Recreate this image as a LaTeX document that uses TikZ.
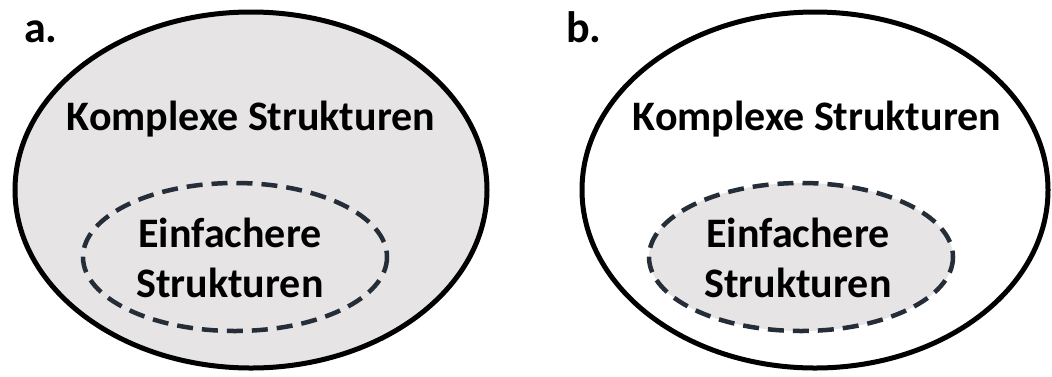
\documentclass[tikz,border=0pt]{standalone}
\usepackage{fontspec}
\setmainfont{Carlito}
\usetikzlibrary{shapes.geometric}
\definecolor{panelfill}{HTML}{E6E4E5}
\definecolor{dashink}{HTML}{252D38}
\tikzset{
  outerset/.style={draw=black, line width=5pt},
  innerset/.style={draw=dashink, line width=4.5pt, dash pattern=on 16pt off 9pt},
  bigtext/.style={font=\bfseries\fontsize{42}{48}\selectfont, inner sep=0pt},
  innertext/.style={font=\bfseries\fontsize{42}{50}\selectfont, align=center, inner sep=0pt},
  panellabel/.style={font=\bfseries\fontsize{44}{50}\selectfont, anchor=base west, inner sep=0pt}
}
\begin{document}
\begin{tikzpicture}[x=1pt, y=-1pt]
  \useasboundingbox (0,0) rectangle (1052,376);

  % panel a: filled outer set, dashed inner set
  \draw[outerset, fill=panelfill] (251,190) ellipse [x radius=236, y radius=178];
  \draw[innerset] (235,257) ellipse [x radius=152, y radius=74];
  \node[panellabel] (la) at (24,42) {a.};
  \node[bigtext, anchor=base] (ka) at (251,130) {Komplexe Strukturen};
  \node[innertext, anchor=base] (ea) at (230,247) {Einfachere};
  \node[innertext, anchor=base] (sa) at (230,297) {Strukturen};

  % panel b: empty outer set, filled dashed inner set
  \draw[outerset, fill=white] (815,190) ellipse [x radius=233, y radius=178];
  \draw[innerset, fill=panelfill] (801,257) ellipse [x radius=152, y radius=74];
  \node[panellabel] (lb) at (566,42) {b.};
  \node[bigtext, anchor=base] (kb) at (817,130) {Komplexe Strukturen};
  \node[innertext, anchor=base] (eb) at (798,247) {Einfachere};
  \node[innertext, anchor=base] (sb) at (798,297) {Strukturen};
\end{tikzpicture}
\end{document}
